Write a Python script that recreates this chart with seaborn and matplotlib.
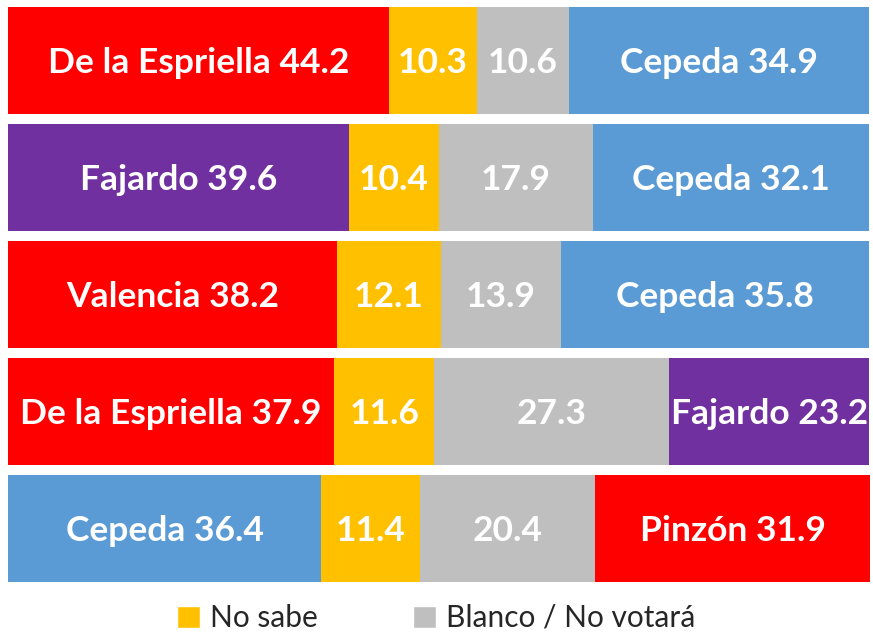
import matplotlib
matplotlib.use("Agg")
import matplotlib.pyplot as plt
from matplotlib.patches import Patch
import numpy as np
import pandas as pd
import seaborn as sns

# Head-to-head matchups: first candidate, undecided, blank/abstain, second candidate
rows = ["m1", "m2", "m3", "m4", "m5"]
first_names = ["De la Espriella", "Fajardo", "Valencia", "De la Espriella", "Cepeda"]
first_vals = [44.2, 39.6, 38.2, 37.9, 36.4]
no_sabe = [10.3, 10.4, 12.1, 11.6, 11.4]
blanco = [10.6, 17.9, 13.9, 27.3, 20.4]
second_names = ["Cepeda", "Cepeda", "Cepeda", "Fajardo", "Pinzón"]
second_vals = [34.9, 32.1, 35.8, 23.2, 31.9]

candidate_colors = {
    "De la Espriella": "#FF0000",
    "Valencia": "#FF0000",
    "Pinzón": "#FF0000",
    "Fajardo": "#7030A0",
    "Cepeda": "#5B9BD5",
}
color_no_sabe = "#FFC000"
color_blanco = "#BFBFBF"

sns.set_theme(style="white")
plt.rcParams["font.family"] = ["Lato", "DejaVu Sans"]

df = pd.DataFrame({
    "row": rows,
    "c1": first_vals,
    "c2": np.add(first_vals, no_sabe),
    "c3": np.add(np.add(first_vals, no_sabe), blanco),
    "c4": np.add(np.add(np.add(first_vals, no_sabe), blanco), second_vals),
})

layers = [
    ("c4", [candidate_colors[n] for n in second_names]),
    ("c3", [color_blanco] * len(rows)),
    ("c2", [color_no_sabe] * len(rows)),
    ("c1", [candidate_colors[n] for n in first_names]),
]

fig = plt.figure(figsize=(8.73, 6.32), dpi=100)
ax = fig.add_axes([8 / 873, 1 - 587 / 632, 862 / 873, 585 / 632])

# Stacked bars drawn as overlapping cumulative totals, widest first
for col, cols in layers:
    sns.barplot(data=df, x=col, y="row", hue="row", palette=cols, legend=False,
                orient="h", width=0.915, saturation=1, linewidth=0, ax=ax)

ax.set_xlim(0, df["c4"].max())
ax.set_ylim(len(rows) - 0.5, -0.5)
ax.set_xlabel("")
ax.set_ylabel("")
ax.set_xticks([])
ax.set_yticks([])
for s in ax.spines.values():
    s.set_visible(False)

label_kw = dict(ha="center", va="center", color="white", fontweight="bold")
for i in range(len(rows)):
    starts = [0, df["c1"][i], df["c2"][i], df["c3"][i]]
    widths = [first_vals[i], no_sabe[i], blanco[i], second_vals[i]]
    texts = [f"{first_names[i]} {first_vals[i]}", f"{no_sabe[i]}",
             f"{blanco[i]}", f"{second_names[i]} {second_vals[i]}"]
    for s, w, t in zip(starts, widths, texts):
        ax.text(s + w / 2, i + 0.02, t, fontsize=25.5, **label_kw)

handles = [Patch(facecolor=color_no_sabe, label="No sabe"),
           Patch(facecolor=color_blanco, label="Blanco / No votará")]
fig.legend(handles=handles, loc="center", bbox_to_anchor=(0.5, 1 - 618 / 632),
           ncol=2, frameon=False, fontsize=21.5, handlelength=0.75, handleheight=0.75,
           handletextpad=0.35, columnspacing=3.2)

fig.savefig("out.png", dpi=100, facecolor="white")
